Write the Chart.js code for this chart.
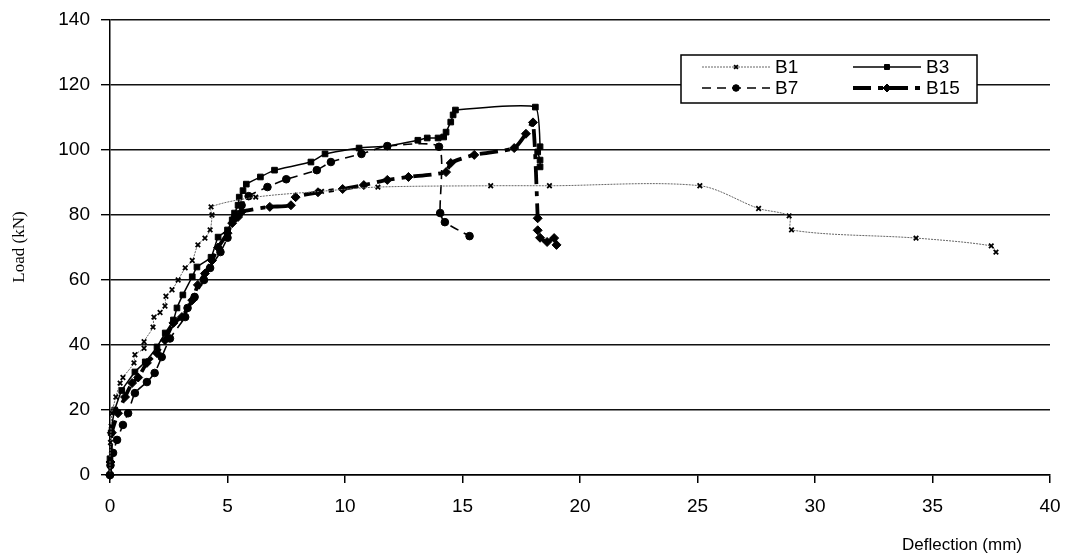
<!DOCTYPE html>
<html>
<head>
<meta charset="utf-8">
<script src="https://cdn.jsdelivr.net/npm/chart.js@4/dist/chart.umd.min.js"></script>
<style>
  html, body { margin: 0; padding: 0; background: #fff; }
  canvas { display: block; }
</style>
</head>
<body>
<canvas id="chart" width="1068" height="557"></canvas>
<script>
// deflection (mm) / load (kN)
const b1X = [0, 0, 0.02, 0.05, 0.08, 0.25, 0.43, 0.55, 1.02, 1.06, 1.45, 1.45, 1.83, 1.87, 2.13, 2.34, 2.38, 2.64, 2.9, 3.2, 3.5, 3.74, 4.04, 4.26, 4.34, 4.3, 6.2, 9.0, 11.4, 16.2, 18.7, 25.1, 27.6, 28.9, 29.0, 34.3, 37.5, 37.7];
const b1Y = [0, 5, 10, 15, 19, 24, 28.3, 30, 34.5, 37, 39, 41, 45.5, 48.6, 50, 52, 55, 57, 60, 63.7, 66, 70.8, 72.9, 75.4, 80, 82.5, 85.5, 87.3, 88.6, 89, 89, 89, 82, 79.7, 75.4, 72.9, 70.5, 68.6];

const b3X = [0, 0, 0.05, 0.2, 0.5, 1.06, 1.5, 2.0, 2.35, 2.7, 2.85, 3.1, 3.5, 3.7, 4.3, 4.6, 5.0, 5.2, 5.3, 5.45, 5.5, 5.66, 5.8, 6.4, 7.0, 8.55, 9.15, 10.6, 11.8, 13.1, 13.5, 13.96, 14.2, 14.3, 14.5, 14.6, 14.7, 18.1, 18.3, 18.2, 18.3, 18.3];
const b3Y = [0, 5, 13, 20, 26, 31.7, 34.8, 39.4, 43.7, 47.7, 51.4, 55.4, 61, 64, 67, 73.2, 75.4, 78.5, 80.6, 83, 85.5, 87.5, 89.5, 91.7, 93.8, 96.3, 98.8, 100.6, 101.2, 103, 103.7, 103.7, 104, 105.5, 108.6, 110.8, 112.3, 113.2, 101, 99.4, 96.9, 94.8];

const b7X = [0, 0.02, 0.13, 0.3, 0.55, 0.77, 1.06, 1.57, 1.9, 2.2, 2.55, 3.2, 3.3, 3.6, 4.0, 4.26, 4.7, 5.0, 5.3, 5.6, 5.9, 6.7, 7.5, 8.8, 9.4, 10.7, 11.8, 14.0, 14.05, 14.25, 15.3];
const b7Y = [0, 3, 6.8, 10.8, 15.4, 19, 25.2, 28.6, 31.4, 36.3, 42, 48.6, 51.4, 54.8, 60, 63.7, 68.6, 73, 79, 83, 85.8, 88.6, 91, 93.8, 96.3, 98.8, 101.2, 101, 80.6, 77.8, 73.5];

const b15X = [0, 0.02, 0.08, 0.34, 0.64, 0.94, 1.2, 1.57, 2.0, 2.34, 2.7, 3.06, 3.5, 3.74, 4.04, 4.34, 4.6, 5.0, 5.2, 5.45, 5.6, 6.8, 7.7, 7.9, 8.85, 9.9, 10.8, 11.8, 12.7, 14.3, 14.5, 15.5, 17.2, 17.7, 18.0, 18.2, 18.2, 18.3, 18.6, 18.9, 19.0];
const b15Y = [0, 4, 13, 19, 24, 28.3, 30, 34.5, 37.5, 41.5, 46.8, 48.6, 53.8, 58.5, 62, 66, 70, 74.4, 77.5, 79.4, 81, 82.5, 83, 85.5, 87, 88, 89.2, 90.8, 91.7, 93.2, 96, 98.5, 100.6, 105, 108.5, 79, 75.3, 73, 71.7, 72.9, 70.8];

const seriesNames = ['B1', 'B3', 'B7', 'B15'];
const xTicks = { min: 0, max: 40, step: 5 };
const yTicks = { min: 0, max: 140, step: 20 };

function pts(xs, ys) {
  return xs.map((x, i) => ({ x: x, y: ys[i] }));
}

const sans = "'Liberation Sans', Arial, sans-serif";
const tickFont = { family: sans, size: 19 };

const datasets = [
  {
    label: seriesNames[0], data: pts(b1X, b1Y),
    borderColor: '#666', borderWidth: 1, borderDash: [2, 1], tension: 0.3,
    pointStyle: 'crossRot', pointRadius: 3.2, pointBorderColor: '#000', pointBorderWidth: 1.8,
    pointBackgroundColor: '#000',
  },
  {
    label: seriesNames[1], data: pts(b3X, b3Y),
    borderColor: '#000', borderWidth: 1.5, tension: 0.15,
    pointStyle: 'rect', pointRadius: 4, pointBackgroundColor: '#000', pointBorderColor: '#000', pointBorderWidth: 1,
  },
  {
    label: seriesNames[2], data: pts(b7X, b7Y),
    borderColor: '#000', borderWidth: 1.6, borderDash: [9, 6], tension: 0.2,
    pointStyle: 'circle', pointRadius: 3.8, pointBackgroundColor: '#000', pointBorderColor: '#000', pointBorderWidth: 1,
  },
  {
    label: seriesNames[3], data: pts(b15X, b15Y),
    borderColor: '#000', borderWidth: 3.8, borderDash: [18, 7, 5, 7], tension: 0.2,
    pointStyle: 'rectRot', pointRadius: 4.5, pointBackgroundColor: '#000', pointBorderColor: '#000', pointBorderWidth: 1,
  },
];
datasets.forEach(d => { d.showLine = true; d.clip = false; d.fill = false; });

// legend box, axis titles
const decor = {
  id: 'decor',
  afterDraw(chart) {
    const ctx = chart.ctx;
    ctx.save();
    const bx = 681, by = 55, bw = 296, bh = 48;
    ctx.fillStyle = '#fff';
    ctx.fillRect(bx, by, bw, bh);
    ctx.strokeStyle = '#000';
    ctx.lineWidth = 1.5;
    ctx.setLineDash([]);
    ctx.strokeRect(bx, by, bw, bh);
    const cells = [[702, 67], [853, 67], [702, 88], [853, 88]];
    chart.data.datasets.forEach((ds, i) => {
      const [lx, ly] = cells[i];
      const lw = 68;
      ctx.strokeStyle = ds.borderColor;
      ctx.lineWidth = ds.borderWidth;
      ctx.setLineDash(ds.borderDash || []);
      ctx.beginPath();
      ctx.moveTo(lx, ly);
      ctx.lineTo(lx + lw, ly);
      ctx.stroke();
      ctx.setLineDash([]);
      ctx.fillStyle = ds.pointBackgroundColor;
      ctx.strokeStyle = ds.pointBorderColor;
      ctx.lineWidth = ds.pointBorderWidth;
      Chart.helpers.drawPoint(ctx, { pointStyle: ds.pointStyle, radius: ds.pointRadius - 0.5, rotation: 0, borderWidth: ds.pointBorderWidth }, lx + lw / 2, ly);
      ctx.fillStyle = '#000';
      ctx.font = '19px ' + sans;
      ctx.textBaseline = 'middle';
      ctx.textAlign = 'left';
      ctx.fillText(ds.label, lx + lw + 5, ly + 1);
    });
    ctx.fillStyle = '#000';
    ctx.font = '17px ' + sans;
    ctx.textAlign = 'center';
    ctx.textBaseline = 'middle';
    ctx.fillText('Deflection (mm)', 962, 545);
    ctx.translate(20, 247);
    ctx.rotate(-Math.PI / 2);
    ctx.font = "17px 'Liberation Serif', 'Times New Roman', serif";
    ctx.fillText('Load (kN)', 0, 0);
    ctx.restore();
  }
};

new Chart(document.getElementById('chart'), {
  type: 'scatter',
  data: { datasets: datasets },
  plugins: [decor],
  options: {
    responsive: false,
    animation: false,
    devicePixelRatio: 1,
    layout: { padding: { left: 0, right: 18, top: 20, bottom: 0 } },
    plugins: { legend: { display: false }, tooltip: { enabled: false } },
    scales: {
      x: {
        type: 'linear', min: xTicks.min, max: xTicks.max,
        afterFit: s => { s.height = 82; s.paddingRight = 0; s.paddingLeft = 0; },
        ticks: { stepSize: xTicks.step, color: '#000', font: tickFont, padding: 12, maxRotation: 0 },
        grid: { drawOnChartArea: false, tickLength: 8, tickColor: '#000', lineWidth: 1.5 },
        border: { color: '#000', width: 1.5 },
      },
      y: {
        type: 'linear', min: yTicks.min, max: yTicks.max,
        afterFit: s => { s.width = 110; s.paddingTop = 0; s.paddingBottom = 0; },
        ticks: { stepSize: yTicks.step, color: '#000', font: tickFont, padding: 11 },
        grid: { color: '#111', lineWidth: 1.4, tickLength: 9, tickColor: '#000' },
        border: { color: '#000', width: 1.5 },
      },
    },
  },
});
</script>
</body>
</html>
